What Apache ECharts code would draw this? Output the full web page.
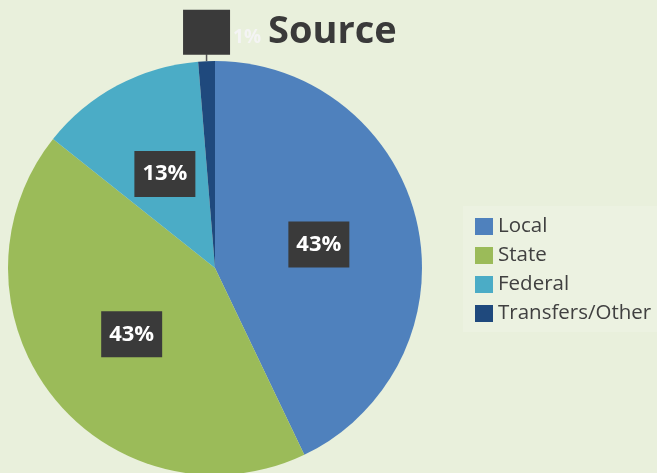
<!DOCTYPE html>
<html>
<head>
<meta charset="utf-8">
<script src="https://cdn.jsdelivr.net/npm/echarts@6/dist/echarts.min.js"></script>
<style>
html,body{margin:0;padding:0;background:#e9f0dc;}
#chart{width:657px;height:473px;}
</style>
</head>
<body>
<div id="chart"></div>
<script>
const categories = ['Local', 'State', 'Federal', 'Transfers/Other'];
const values = [42.9, 42.8, 13.0, 1.3];
const colors = ['#4f81bd', '#9bbb59', '#4bacc6', '#1f497d'];
const titleText = 'Source';

const chart = echarts.init(document.getElementById('chart'));
const FONT = '"Open Sans", "Liberation Sans", sans-serif';

const data = categories.map((name, i) => {
  const item = { name: name, value: values[i], itemStyle: { color: colors[i] } };
  if (i === 3) {
    item.label = {
      position: 'outside',
      backgroundColor: 'transparent',
      padding: 0,
      formatter: p => '{box|}{t|' + Math.round(p.percent) + '%}',
      rich: {
        box: { width: 47, height: 45, backgroundColor: '#3a3a3a' },
        t: { color: '#f4f4f4', fontSize: 19, fontWeight: 'bold', fontFamily: FONT, padding: [10, 0, 0, 3] }
      }
    };
    item.labelLine = { show: true, length: 6, length2: 0, lineStyle: { color: '#555', width: 1.5 } };
  }
  return item;
});

chart.setOption({
  backgroundColor: '#e9f0dc',
  animation: false,
  title: {
    text: titleText,
    left: 263,
    top: 8,
    textStyle: { fontFamily: FONT, fontSize: 38, fontWeight: 'bold', color: '#3a3a3a' }
  },
  legend: {
    orient: 'vertical',
    left: 463,
    top: 206,
    padding: [10, 6, 8, 12],
    backgroundColor: 'rgba(255,255,255,0.15)',
    itemWidth: 18,
    itemHeight: 17,
    itemGap: 8,
    icon: 'rect',
    data: categories,
    textStyle: { fontFamily: FONT, fontSize: 20.5, color: '#404040', padding: [0, 0, 0, 0], lineHeight: 18 }
  },
  series: [{
    type: 'pie',
    center: [215, 268],
    radius: 207,
    startAngle: 90,
    clockwise: true,
    avoidLabelOverlap: false,
    data: data,
    label: {
      show: true,
      position: 'inside',
      formatter: p => Math.round(p.percent) + '%',
      color: '#ffffff',
      fontFamily: FONT,
      fontSize: 22,
      fontWeight: 'bold',
      lineHeight: 22,
      backgroundColor: '#3a3a3a',
      padding: [12, 8, 12, 8]
    },
    labelLine: { show: false },
    labelLayout: function (params) {
      if (params.dataIndex !== 3 || !params.labelLinePoints) return {};
      const p0 = params.labelLinePoints[0];
      const top = [p0[0], p0[1] - 7];
      return {
        x: p0[0] - 23.5,
        y: top[1] - 11,
        align: 'left',
        verticalAlign: 'bottom',
        labelLinePoints: [p0, top, top]
      };
    }
  }]
});
</script>
</body>
</html>
